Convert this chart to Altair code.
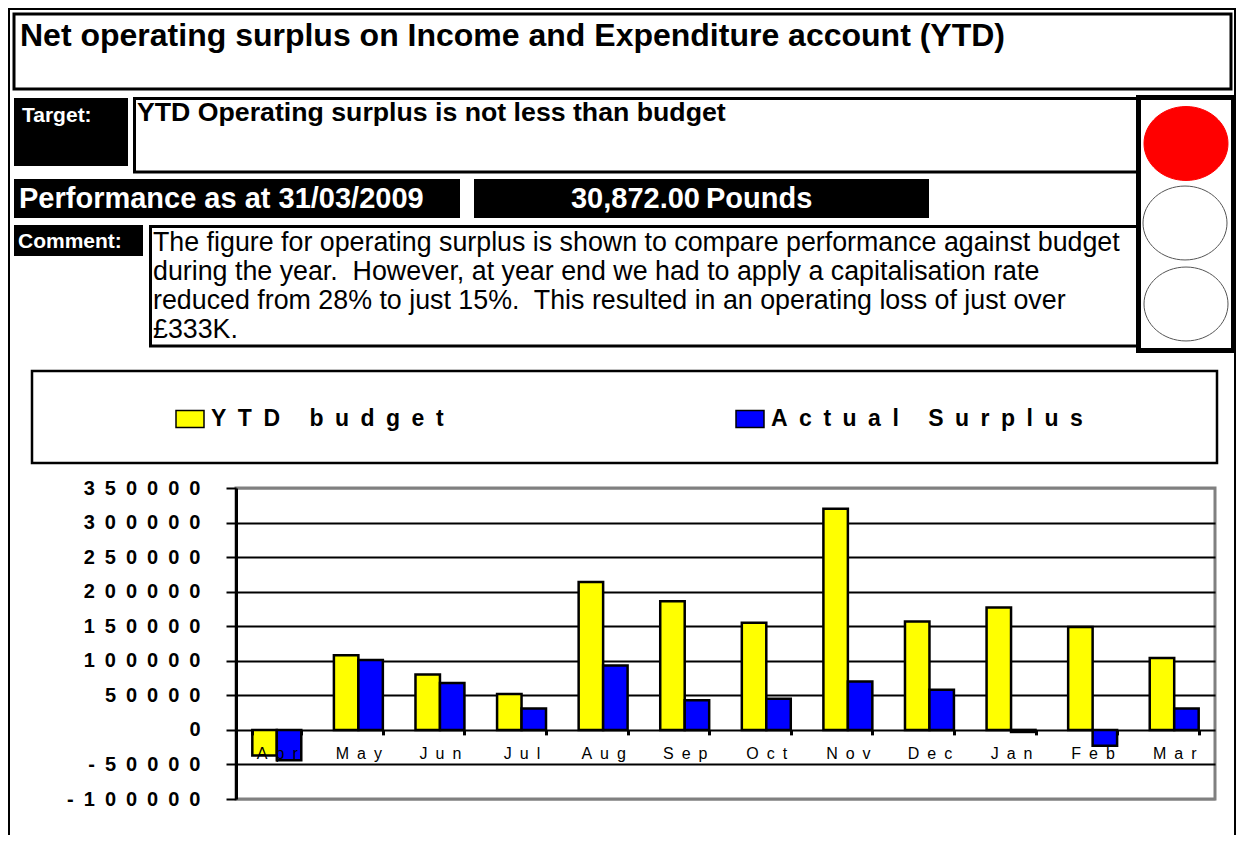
import altair as alt
import pandas as pd

# ---------------- data ----------------
months = ["Apr", "May", "Jun", "Jul", "Aug", "Sep", "Oct", "Nov", "Dec", "Jan", "Feb", "Mar"]
ytd_budget = [-37000, 108000, 80000, 52000, 214000, 186000, 155000, 320000, 157000, 177000, 149000, 104000]
actual_surplus = [-44000, 101000, 68000, 31000, 93000, 43000, 45000, 70000, 58000, -3000, -23000, 30872]
series_names = ["YTD budget", "Actual Surplus"]
series_colors = ["#FFFF00", "#0000FF"]
y_ticks = [-100000, -50000, 0, 50000, 100000, 150000, 200000, 250000, 300000, 350000]

title_text = "Net operating surplus on Income and Expenditure account (YTD)"
target_label = "Target:"
target_text = "YTD Operating surplus is not less than budget"
performance_text = "Performance as at 31/03/2009"
value_text = f"{actual_surplus[-1]:,.2f}"
unit_text = "Pounds"
comment_label = "Comment:"
comment_lines = [
    "The figure for operating surplus is shown to compare performance against budget",
    "during the year.\u00a0 However, at year end we had to apply a capitalisation rate",
    "reduced from 28% to just 15%.\u00a0 This resulted in an operating loss of just over",
    "£333K.",
]

# ---------------- layout ----------------
FONT = "Liberation Sans"
PLOT_LEFT, PLOT_TOP = 236, 488
W, H = 979, 311
TOTAL_W = 1228
SP = "\u2002"


def px(x):
    return x - PLOT_LEFT


def py(y):
    return y - PLOT_TOP


ONE = alt.Data(values=[{"k": 1}])


def box(x1, y1, x2, y2, fill=None, stroke=None, sw=0):
    kw = {}
    if fill:
        kw["fill"] = fill
    else:
        kw["fillOpacity"] = 0
    if stroke:
        kw["stroke"] = stroke
        kw["strokeWidth"] = sw
    return alt.Chart(ONE).mark_rect(**kw).encode(
        x=alt.value(px(x1)), x2=alt.value(px(x2)),
        y=alt.value(py(y1)), y2=alt.value(py(y2)),
    )


def label(x, y, text, size, color="black", weight="bold", align="left", line_height=None):
    kw = dict(text=text, font=FONT, fontSize=size, fontWeight=weight, color=color,
              align=align, baseline="alphabetic")
    if line_height:
        kw["lineHeight"] = line_height
    return alt.Chart(ONE).mark_text(**kw).encode(x=alt.value(px(x)), y=alt.value(py(y)))


c = 0.5523
r = 0.88
ELLIPSE = (f"M 1 0 C 1 {r*c:.4f} {c:.4f} {r:.4f} 0 {r:.4f} "
           f"C {-c:.4f} {r:.4f} -1 {r*c:.4f} -1 0 "
           f"C -1 {-r*c:.4f} {-c:.4f} {-r:.4f} 0 {-r:.4f} "
           f"C {c:.4f} {-r:.4f} 1 {-r*c:.4f} 1 0 Z")


def lamp(x, y, fill, stroke):
    return alt.Chart(ONE).mark_point(shape=ELLIPSE, size=84 * 84, filled=True, fill=fill,
                                     stroke=stroke, strokeWidth=1, opacity=1).encode(
        x=alt.value(px(x)), y=alt.value(py(y)))


decor = [
    box(9, 9, 1235, 900, stroke="black", sw=2),
    box(14, 14, 1231, 89, stroke="black", sw=3),
    label(20, 46, title_text, 32),
    box(14, 98, 128, 166, fill="black"),
    label(22, 122, target_label, 21, color="white"),
    box(134.5, 98.5, 1138, 172, stroke="black", sw=3),
    label(137, 121, target_text, 26.7),
    box(14, 179, 460, 218, fill="black"),
    label(19, 208, performance_text, 29, color="white"),
    box(474, 179, 929, 218, fill="black"),
    label(700, 208, value_text, 29, color="white", align="right"),
    label(706, 208, unit_text, 29, color="white"),
    box(14, 225, 143, 256, fill="black"),
    label(18, 248, comment_label, 21, color="white"),
    box(150.5, 226.5, 1138, 346, stroke="black", sw=3),
    label(153, 251, comment_lines, 26.8, weight="normal", line_height=29),
    box(1138.5, 97.5, 1233.5, 350.5, stroke="black", sw=5),
    lamp(1186, 143.5, "#FF0000", "#FF0000"),
    lamp(1185, 223, "white", "#555555"),
    lamp(1186, 304, "white", "#555555"),
    box(32, 371, 1217, 463, stroke="black", sw=2.5),
]

# ---------------- bars ----------------
df = pd.DataFrame({
    "month": months * 2,
    "series": [series_names[0]] * len(months) + [series_names[1]] * len(months),
    "value": ytd_budget + actual_surplus,
})

zero_offset = -H * (0 - y_ticks[0]) / (y_ticks[-1] - y_ticks[0])
grid_test = f"datum.value == {y_ticks[-1]} || datum.value == {y_ticks[0]}"

bars = alt.Chart(df).mark_bar(stroke="black", strokeWidth=2.5).encode(
    x=alt.X("month:N", sort=months,
            scale=alt.Scale(paddingInner=0.4, paddingOuter=0.2),
            axis=alt.Axis(title=None, orient="bottom", offset=zero_offset, domain=False,
                          grid=False, tickBand="extent", tickSize=5, tickWidth=3,
                          tickColor="black", labelFont=FONT, labelFontSize=16,
                          labelColor="black", labelPadding=11, labelAngle=0,
                          labelExpr=f"join(split(datum.label, ''), '{SP}')", zindex=1)),
    xOffset=alt.XOffset("series:N", sort=series_names,
                        scale=alt.Scale(paddingInner=0, paddingOuter=0)),
    y=alt.Y("value:Q",
            scale=alt.Scale(domain=[y_ticks[0], y_ticks[-1]], nice=False, zero=False),
            axis=alt.Axis(title=None, values=y_ticks, grid=True,
                          gridColor={"condition": {"test": grid_test, "value": "#808080"},
                                     "value": "black"},
                          gridWidth=2, domain=True, domainColor="black", domainWidth=3,
                          ticks=True, tickColor="black", tickWidth=2, tickSize=10,
                          labelFont=FONT, labelFontSize=20, labelFontWeight="bold",
                          labelColor="black", labelPadding=26,
                          labelExpr=f"join(split(toString(datum.value), ''), '{SP}')")),
    color=alt.Color("series:N", sort=series_names,
                    scale=alt.Scale(domain=series_names, range=series_colors),
                    legend=alt.Legend(title=None, orient="none", direction="horizontal",
                                      legendX=175 - PLOT_LEFT, legendY=404 - PLOT_TOP,
                                      symbolType="M -1 -0.6 L 1 -0.6 L 1 0.6 L -1 0.6 Z",
                                      symbolSize=28 * 28, symbolStrokeColor="black",
                                      symbolStrokeWidth=1.5, symbolOpacity=1,
                                      labelFont=FONT, labelFontSize=23,
                                      labelFontWeight="bold", labelColor="black",
                                      labelOffset=6, labelLimit=0, columnPadding=289,
                                      padding=0,
                                      labelExpr=f"join(split(datum.label, ''), '{SP}')")),
)

chart = alt.layer(*decor, bars).properties(
    width=W, height=H,
    padding={"left": PLOT_LEFT - 8, "top": PLOT_TOP - 8,
             "right": TOTAL_W - (PLOT_LEFT - 8) - W, "bottom": 36},
    autosize=alt.AutoSizeParams(type="none"),
    background="white",
).configure_view(stroke="#808080", strokeWidth=3)

chart.save("out.html", embed_options={"renderer": "svg", "actions": False})
